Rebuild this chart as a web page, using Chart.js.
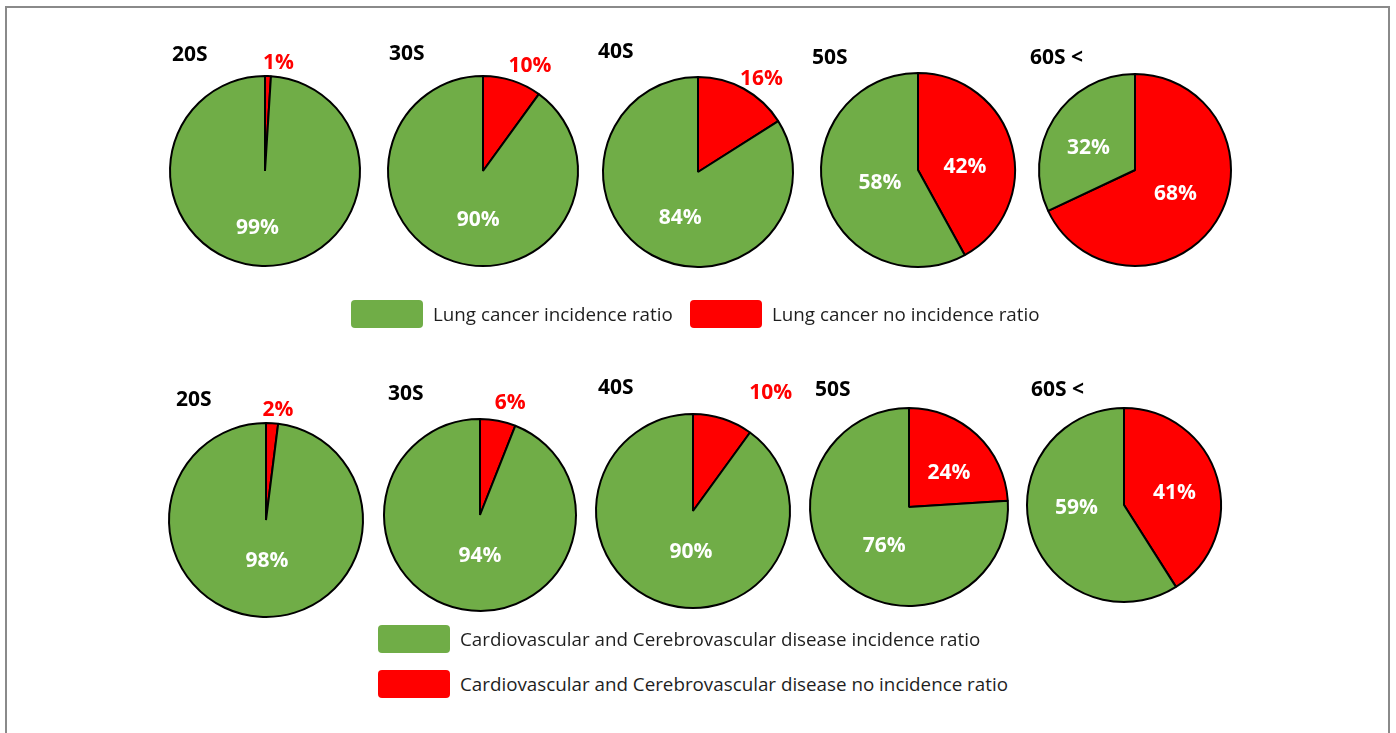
<!DOCTYPE html>
<html>
<head>
<meta charset="utf-8">
<script src="https://cdn.jsdelivr.net/npm/chart.js@4.4.1/dist/chart.umd.min.js"></script>
<style>
  html, body { margin: 0; padding: 0; background: #fff; }
  #stage { position: relative; width: 1396px; height: 733px; overflow: hidden; font-family: "Open Sans", sans-serif; }
  #frame { position: absolute; left: 5px; top: 6px; width: 1385px; height: 760px; border: 2px solid #8a8a8a; box-sizing: border-box; }
  canvas.pie { position: absolute; }
  .legend-item { position: absolute; display: flex; align-items: center; font-size: 18.8px; color: #1e1e1e; white-space: nowrap; }
  .legend-item .swatch { width: 72px; height: 28px; border-radius: 4px; margin-right: 10px; flex: none; }
</style>
</head>
<body>
<div id="stage">
  <div id="frame"></div>
</div>
<script>
// Age groups shown above each pie
const ageGroups = ['20S', '30S', '40S', '50S', '60S <'];

// Lung cancer (percent)
const lungIncidence   = [99, 90, 84, 58, 32];
const lungNoIncidence = [1, 10, 16, 42, 68];

// Cardiovascular and cerebrovascular disease (percent)
const cardioIncidence   = [98, 94, 90, 76, 59];
const cardioNoIncidence = [2, 6, 10, 24, 41];

// Legend labels
const lungLegend = ['Lung cancer incidence ratio', 'Lung cancer no incidence ratio'];
const cardioLegend = ['Cardiovascular and Cerebrovascular disease incidence ratio',
                      'Cardiovascular and Cerebrovascular disease no incidence ratio'];

const GREEN = '#70AD47';
const RED = '#FF0000';

// Placement of each pie: centre and radius (px)
const topRowCenters = [[265, 171], [483, 171], [698, 172], [918, 170], [1135, 170]];
const topRowRadii = [95, 95, 95, 97, 96];
const bottomRowCenters = [[266, 520], [480, 515], [693, 511], [909, 507], [1124, 505]];
const bottomRowRadii = [97, 96, 97, 99, 97];

// Title offsets (left edge, vertical middle) from each pie centre
const topTitleOffsets = [[-93, -116], [-94, -117], [-100, -120], [-106, -112], [-105, -112]];
const bottomTitleOffsets = [[-90, -120], [-92, -121], [-95, -123], [-94, -117], [-93, -115]];

// Small-slice labels sit outside the rim; extra nudge per pie
const topOutsideNudge = [[10, -1], [14, -3], [12, 1], [0, 0], [0, 0]];
const bottomOutsideNudge = [[5, -1], [10, -6], [44, -14], [0, 0], [0, 0]];

// Fine adjustment of in-slice labels: [no-incidence, incidence] per pie
const topInsideNudge = [[[0, 0], [-6, 10]], [[0, 0], [10, 4]], [[0, 0], [5, 4]], [[0, 9], [9, 1]], [[0, -2], [-6, 4]]];
const bottomInsideNudge = [[[0, 0], [4, -7]], [[0, 0], [9, -6]], [[0, 0], [13, -5]], [[6, 2], [9, 3]], [[4, 2], [-1, -11]]];

const CANVAS = 300;

// Draws percentage labels and the age-group title for a pie
const pieText = {
  id: 'pieText',
  afterDatasetsDraw(chart, args, opts) {
    const {ctx} = chart;
    const ds = chart.data.datasets[0];
    const meta = chart.getDatasetMeta(0);
    meta.data.forEach((arc, i) => {
      const v = ds.data[i];
      const text = v + '%';
      ctx.save();
      ctx.font = 'bold 21px "Open Sans"';
      ctx.textAlign = 'center';
      ctx.textBaseline = 'middle';
      if (v < opts.outsideBelow) {
        const mid = (arc.startAngle + arc.endAngle) / 2;
        const d = arc.outerRadius + 12;
        ctx.fillStyle = ds.backgroundColor[i];
        ctx.fillText(text, arc.x + Math.cos(mid) * d + opts.nudge[0], arc.y + Math.sin(mid) * d + opts.nudge[1]);
      } else {
        const p = arc.tooltipPosition();
        const n = opts.inside[i];
        ctx.fillStyle = '#FFFFFF';
        ctx.fillText(text, p.x + n[0], p.y + n[1]);
      }
      ctx.restore();
    });
    const a = meta.data[0];
    ctx.save();
    ctx.font = 'bold 21px "Open Sans"';
    ctx.fillStyle = '#000';
    ctx.textAlign = 'left';
    ctx.textBaseline = 'middle';
    ctx.fillText(opts.title, a.x + opts.titleOffset[0], a.y + opts.titleOffset[1]);
    ctx.restore();
  }
};

const stage = document.getElementById('stage');

function makePie(center, radius, noInc, inc, title, titleOffset, nudge, inside, outsideBelow) {
  const cv = document.createElement('canvas');
  cv.className = 'pie';
  cv.width = CANVAS; cv.height = CANVAS;
  cv.style.width = CANVAS + 'px'; cv.style.height = CANVAS + 'px';
  cv.style.left = (center[0] - CANVAS / 2) + 'px';
  cv.style.top = (center[1] - CANVAS / 2) + 'px';
  stage.appendChild(cv);
  new Chart(cv, {
    type: 'pie',
    data: {
      labels: ['no incidence', 'incidence'],
      datasets: [{
        data: [noInc, inc],
        backgroundColor: [RED, GREEN],
        borderColor: '#000000',
        borderWidth: 2,
        hoverOffset: 0
      }]
    },
    options: {
      responsive: false,
      devicePixelRatio: 1,
      animation: false,
      radius: radius,
      layout: { padding: 0 },
      events: [],
      plugins: {
        legend: { display: false },
        tooltip: { enabled: false },
        pieText: { title, titleOffset, nudge, inside, outsideBelow }
      }
    },
    plugins: [pieText]
  });
}

ageGroups.forEach((g, i) => {
  makePie(topRowCenters[i], topRowRadii[i], lungNoIncidence[i], lungIncidence[i], g,
          topTitleOffsets[i], topOutsideNudge[i], topInsideNudge[i], 20);
  makePie(bottomRowCenters[i], bottomRowRadii[i], cardioNoIncidence[i], cardioIncidence[i], g,
          bottomTitleOffsets[i], bottomOutsideNudge[i], bottomInsideNudge[i], 15);
});

// Legends
function legendItem(text, color, left, top) {
  const el = document.createElement('div');
  el.className = 'legend-item';
  el.style.left = left + 'px';
  el.style.top = top + 'px';
  const sw = document.createElement('span');
  sw.className = 'swatch';
  sw.style.background = color;
  const t = document.createElement('span');
  t.textContent = text;
  el.appendChild(sw); el.appendChild(t);
  stage.appendChild(el);
}
legendItem(lungLegend[0], GREEN, 351, 300);
legendItem(lungLegend[1], RED, 690, 300);
legendItem(cardioLegend[0], GREEN, 378, 625);
legendItem(cardioLegend[1], RED, 378, 670);
</script>
</body>
</html>
